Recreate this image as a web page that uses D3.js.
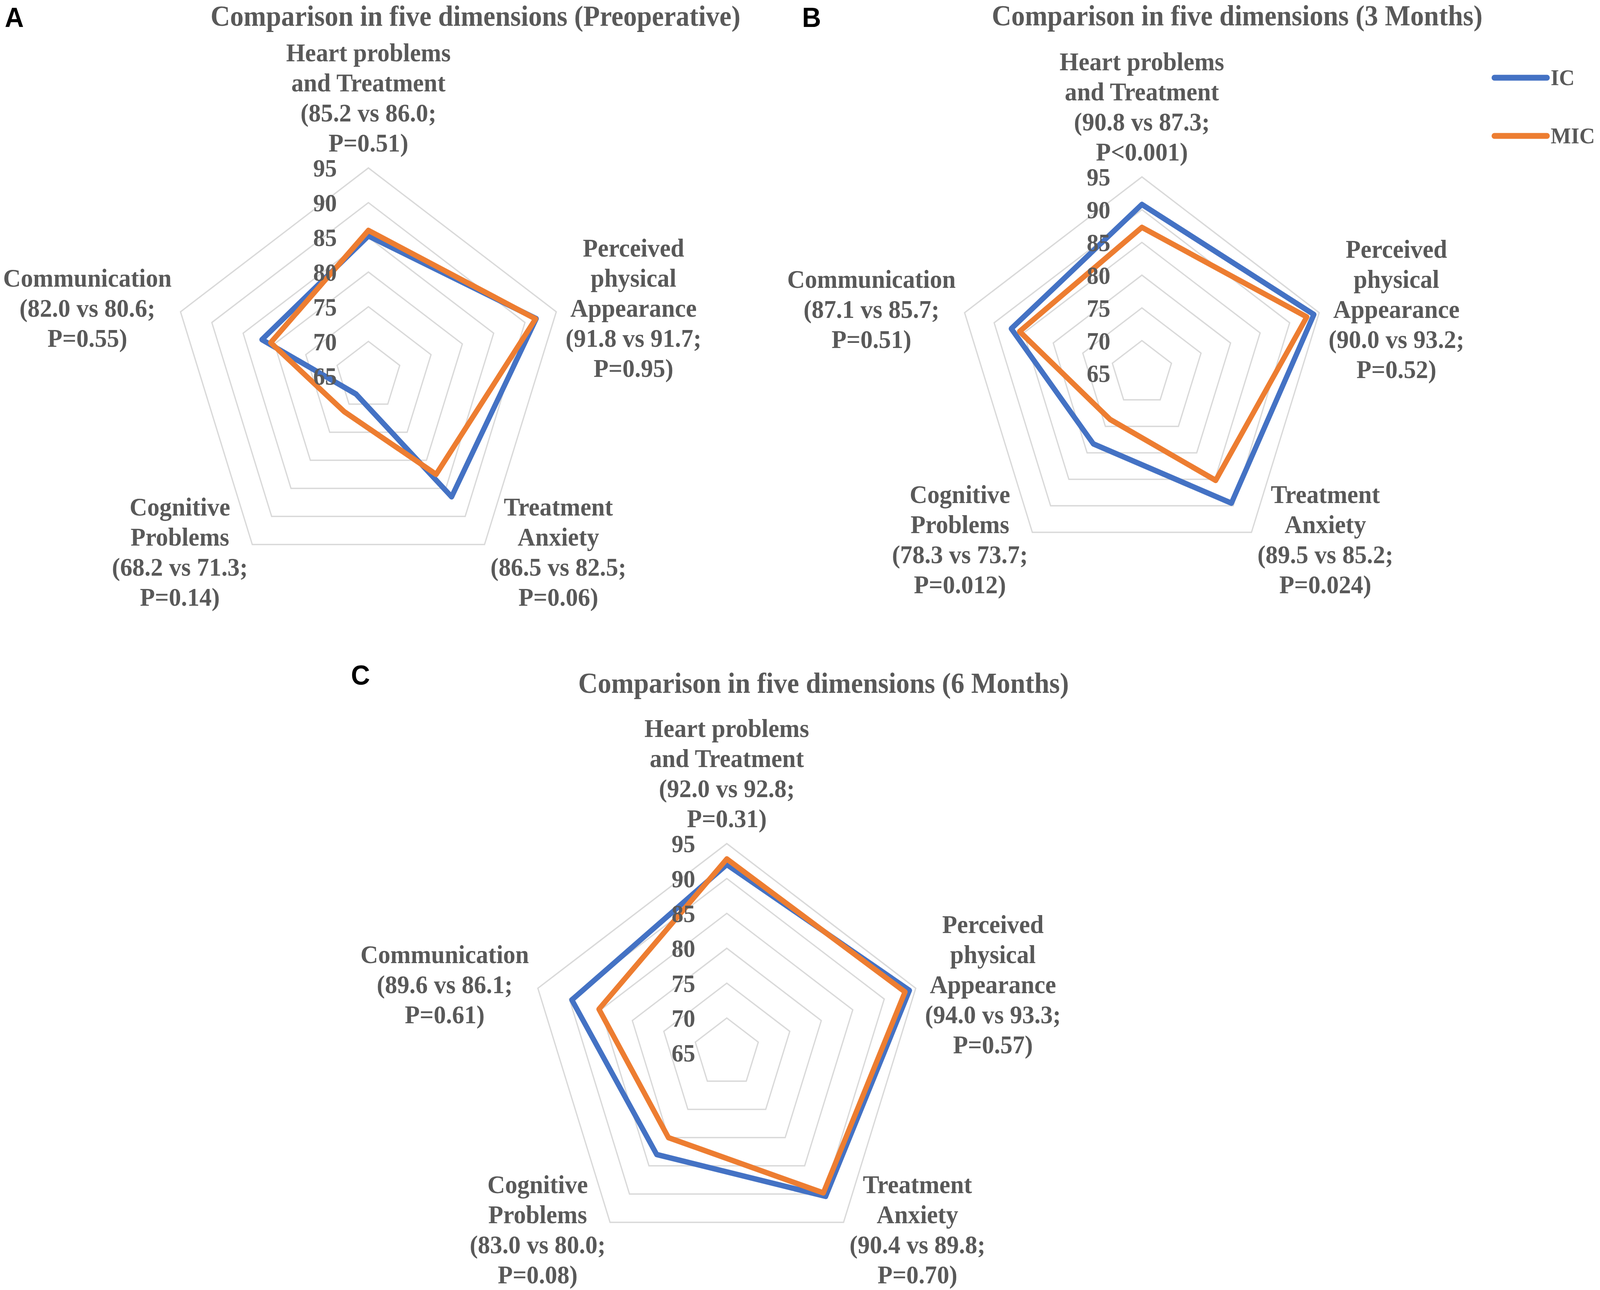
<!DOCTYPE html>
<html>
<head>
<meta charset="utf-8">
<script src="https://cdn.jsdelivr.net/npm/d3@7"></script>
<style>
  html, body { margin: 0; padding: 0; background: #fff; overflow: hidden; }
  svg { display: block; }
  text { font-family: "Liberation Serif", "Times New Roman", serif; font-weight: bold; fill: #595959; }
  .letter { font-family: "Liberation Sans", Arial, sans-serif; fill: #000; }
</style>
</head>
<body>
<div id="chart"></div>
<script>
// dimension names (clockwise from the top)
var dimensions = [
    ["Heart problems", "and Treatment"],
    ["Perceived", "physical", "Appearance"],
    ["Treatment", "Anxiety"],
    ["Cognitive", "Problems"],
    ["Communication"]
];

var ticks = [65, 70, 75, 80, 85, 90, 95];
var seriesNames = ["IC", "MIC"];

// Preoperative
var preIC = [85.2, 91.8, 86.5, 68.2, 82.0];
var preMIC = [86.0, 91.7, 82.5, 71.3, 80.6];
var preCompare = ["85.2 vs 86.0", "91.8 vs 91.7", "86.5 vs 82.5", "68.2 vs 71.3", "82.0 vs 80.6"];
var preP = ["P=0.51", "P=0.95", "P=0.06", "P=0.14", "P=0.55"];

// 3 months
var m3IC = [90.8, 94.1, 89.5, 78.3, 87.1];
var m3MIC = [87.3, 92.9, 85.2, 73.7, 85.7];
var m3Compare = ["90.8 vs 87.3", "90.0 vs 93.2", "89.5 vs 85.2", "78.3 vs 73.7", "87.1 vs 85.7"];
var m3P = ["P<0.001", "P=0.52", "P=0.024", "P=0.012", "P=0.51"];

// 6 months
var m6IC = [92.0, 94.0, 90.4, 83.0, 89.6];
var m6MIC = [92.8, 93.3, 89.8, 80.0, 85.3];
var m6Compare = ["92.0 vs 92.8", "94.0 vs 93.3", "90.4 vs 89.8", "83.0 vs 80.0", "89.6 vs 86.1"];
var m6P = ["P=0.31", "P=0.57", "P=0.70", "P=0.08", "P=0.61"];

var svgWidth = 4317;
var svgHeight = 3303;
var colors = ["#4472C4", "#ED7D31"];

// fit the drawing to whatever the viewport really is
var svg = d3.select("#chart")
    .append("svg")
    .attr("width", window.innerWidth || svgWidth)
    .attr("height", window.innerHeight || svgHeight)
    .attr("viewBox", `0 0 ${svgWidth} ${svgHeight}`)
    .attr("preserveAspectRatio", "none");

svg.append("rect")
    .attr("width", svgWidth)
    .attr("height", svgHeight)
    .attr("fill", "#fff");

var panels = [
    {letter: "A", lx: 13, ly: 69, title: "Comparison in five dimensions (Preoperative)", tx: 1283, ty: 66,
     cx: 994, cy: 963, r: 533, ic: preIC, mic: preMIC, compare: preCompare, p: preP},
    {letter: "B", lx: 2164, ly: 69, title: "Comparison in five dimensions (3 Months)", tx: 3338, ty: 65,
     cx: 3081, cy: 956, r: 503, ic: m3IC, mic: m3MIC, compare: m3Compare, p: m3P},
    {letter: "C", lx: 947, ly: 1753, title: "Comparison in five dimensions (6 Months)", tx: 2222, ty: 1774,
     cx: 1961, cy: 2696, r: 536, ic: m6IC, mic: m6MIC, compare: m6Compare, p: m6P}
];

var angle = d3.scaleLinear().domain([0, dimensions.length]).range([0, 2 * Math.PI]);
var lineHeight = 77;
var capHeight = 44;
// gap between the axis end and the label block
var labelGap = [42, 25, 16, 12, 24];

function drawRadar(p) {
    var g = svg.append("g");
    var rScale = d3.scaleLinear().domain([ticks[0], ticks[ticks.length - 1]]).range([0, p.r]);

    var radial = d3.lineRadial()
        .angle(function(d, i) { return angle(i); })
        .radius(function(d) { return rScale(d); })
        .curve(d3.curveLinearClosed);

    // grid rings
    g.selectAll(".ring")
        .data(ticks.slice(1))
        .enter()
        .append("path")
        .attr("class", "ring")
        .attr("transform", `translate(${p.cx},${p.cy})`)
        .attr("d", function(t) { return radial(dimensions.map(function() { return t; })); })
        .attr("fill", "none")
        .attr("stroke", "#D9D9D9")
        .attr("stroke-width", 3.5);

    // series
    [p.ic, p.mic].forEach(function(vals, k) {
        g.append("path")
            .attr("transform", `translate(${p.cx},${p.cy})`)
            .attr("d", radial(vals))
            .attr("fill", "none")
            .attr("stroke", colors[k])
            .attr("stroke-width", 14)
            .attr("stroke-linejoin", "round");
    });

    // value axis labels
    g.selectAll(".tick")
        .data(ticks)
        .enter()
        .append("text")
        .attr("x", p.cx - 85)
        .attr("y", function(t) { return p.cy - rScale(t); })
        .attr("dy", "0.35em")
        .attr("text-anchor", "end")
        .attr("font-size", 64)
        .text(function(t) { return t; });

    // category labels
    dimensions.forEach(function(name, i) {
        var a = angle(i);
        var vx = p.cx + p.r * Math.sin(a);
        var vy = p.cy - p.r * Math.cos(a);
        var lines = name.concat(["(" + p.compare[i] + ";", p.p[i] + ")"]);
        var lab = g.append("text")
            .attr("font-size", 66)
            .attr("text-anchor", "middle");
        var spans = lab.selectAll("tspan")
            .data(lines)
            .enter()
            .append("tspan")
            .text(function(d) { return d; });
        var w = d3.max(spans.nodes(), function(n) { return n.getComputedTextLength(); });
        var blockH = (lines.length - 1) * lineHeight;
        var x, firstBase;
        if (i === 0) {
            x = vx;
            firstBase = vy - labelGap[0] - blockH;
        } else {
            var mid = (i === 1 || i === 4) ? vy - 9 : vy + 19;
            firstBase = mid - (blockH - capHeight) / 2;
            x = (i === 1 || i === 2) ? vx + labelGap[i] + w / 2 : vx - labelGap[i] - w / 2;
        }
        spans.attr("x", x)
            .attr("y", function(d, j) { return firstBase + j * lineHeight; });
    });

    // title and panel letter
    svg.append("text")
        .attr("x", p.tx)
        .attr("y", p.ty)
        .attr("text-anchor", "middle")
        .attr("font-size", 73)
        .text(p.title);

    svg.append("text")
        .attr("class", "letter")
        .attr("x", p.lx)
        .attr("y", p.ly)
        .attr("font-size", 71)
        .text(p.letter);
}

panels.forEach(drawRadar);

// legend (in panel B)
var legend = svg.append("g").attr("transform", "translate(4032,199)");
seriesNames.forEach(function(s, k) {
    legend.append("line")
        .attr("x1", 0).attr("x2", 142)
        .attr("y1", k * 149).attr("y2", k * 149)
        .attr("stroke", colors[k])
        .attr("stroke-width", 15)
        .attr("stroke-linecap", "round");
    legend.append("text")
        .attr("x", 152)
        .attr("y", k * 149 + 19)
        .attr("font-size", 58)
        .text(s);
});
</script>
</body>
</html>
